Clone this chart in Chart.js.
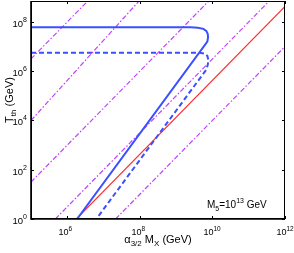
<!DOCTYPE html>
<html>
<head>
<meta charset="utf-8">
<script src="https://cdn.jsdelivr.net/npm/chart.js@4/dist/chart.umd.min.js"></script>
<style>
  html, body { margin: 0; padding: 0; background: #fff; }
  #wrap { width: 294px; height: 253px; }
</style>
</head>
<body>
<div id="wrap"><canvas id="tempChart"></canvas></div>
<script>
// all values are log10 exponents
const solidX = [5, 9.4, 9.6, 9.75, 9.83, 9.87, 9.88, 9.86, 6.27];
const solidY = [7.78, 7.78, 7.76, 7.72, 7.64, 7.52, 7.38, 7.2, 0];
const dashX = [5, 9.65, 9.78, 9.86, 9.89, 9.87, 9.83, 6.8];
const dashY = [6.75, 6.75, 6.72, 6.62, 6.45, 6.25, 6.06, 0];
const redX = [6.25, 12];
const redY = [0, 8.63];
const magStartX = [5, 5, 5, 5.67, 7.33];
const magStartY = [6.5, 4.0, 1.5, 0, 0];
const magEndX = [7.6, 8.9, 10.3, 11.6, 12];
const magEndY = [10.4, 10.35, 9.45, 8.9, 7];
const xTicks = [6, 8, 10, 12];
const yTicks = [0, 2, 4, 6, 8];

const FONT = '"Liberation Sans", Arial, sans-serif';

function pts(xs, ys) {
    return xs.map((e, i) => ({ x: Math.pow(10, e), y: Math.pow(10, ys[i]) }));
}

// draws text pieces in a row, each piece {t, size, dy}
function drawRuns(ctx, runs, x, y, align) {
    let w = 0;
    runs.forEach(r => { ctx.font = r.size + 'px ' + FONT; w += ctx.measureText(r.t).width; });
    let cx = align === 'right' ? x - w : align === 'center' ? x - w / 2 : x;
    runs.forEach(r => {
        ctx.font = r.size + 'px ' + FONT;
        ctx.fillText(r.t, cx, y + (r.dy || 0));
        cx += ctx.measureText(r.t).width;
    });
}

const framePlugin = {
    id: 'frame',
    afterDatasetsDraw(chart) {
        const { ctx, chartArea: a, scales } = chart;
        const sx = scales.x, sy = scales.y;
        ctx.save();
        ctx.setLineDash([]);
        ctx.strokeStyle = '#000';
        ctx.fillStyle = '#000';
        ctx.lineWidth = 1;
        ctx.strokeRect(a.left + 0.5, a.top + 0.5, a.right - a.left - 1, a.bottom - a.top - 1);
        ctx.lineWidth = 1.6;
        ctx.beginPath();
        ctx.moveTo(a.left, a.top); ctx.lineTo(a.left, a.bottom); ctx.lineTo(a.right, a.bottom);
        ctx.stroke();

        ctx.lineWidth = 1;
        ctx.textBaseline = 'alphabetic';
        xTicks.forEach(e => {
            const px = Math.round(sx.getPixelForValue(Math.pow(10, e))) + 0.5;
            ctx.beginPath();
            ctx.moveTo(px, a.bottom); ctx.lineTo(px, a.bottom - 3);
            ctx.moveTo(px, a.top); ctx.lineTo(px, a.top + 3);
            ctx.stroke();
            ctx.font = '9px ' + FONT;
            const bw = ctx.measureText('10').width;
            drawRuns(ctx, [{ t: '10', size: 9 }, { t: String(e), size: 6.5, dy: -4 }], px + 1 - bw, a.bottom + 16, 'left');
        });
        yTicks.forEach(e => {
            const py = Math.round(sy.getPixelForValue(Math.pow(10, e))) + 0.5;
            ctx.beginPath();
            ctx.moveTo(a.left, py); ctx.lineTo(a.left + 3, py);
            ctx.moveTo(a.right, py); ctx.lineTo(a.right - 3, py);
            ctx.stroke();
            drawRuns(ctx, [{ t: '10', size: 9.5 }, { t: String(e), size: 7, dy: -4.5 }], a.left - 4, py + 4, 'right');
        });

        // axis titles
        drawRuns(ctx, [
            { t: 'α', size: 11 }, { t: '3/2', size: 8, dy: 3 },
            { t: ' M', size: 11 }, { t: 'X', size: 8, dy: 3 },
            { t: ' (GeV)', size: 11 }
        ], 158, 243, 'center');

        ctx.save();
        ctx.translate(13, 100);
        ctx.rotate(-Math.PI / 2);
        drawRuns(ctx, [{ t: 'T', size: 11 }, { t: 'th', size: 8, dy: 3 }, { t: ' (GeV)', size: 11 }], 0, 0, 'center');
        ctx.restore();

        drawRuns(ctx, [
            { t: 'M', size: 10 }, { t: '5', size: 7, dy: 3 },
            { t: '=10', size: 10 }, { t: '13', size: 7, dy: -5 },
            { t: ' GeV', size: 10 }
        ], 207, 208, 'left');
        ctx.restore();
    }
};

const datasets = [
    { data: pts(solidX, solidY), borderColor: '#3a50ff', borderWidth: 2 },
    { data: pts(dashX, dashY), borderColor: '#3a50ff', borderWidth: 2, borderDash: [5, 3] },
    { data: pts(redX, redY), borderColor: '#ff2a2a', borderWidth: 1.1 }
];
magStartY.forEach((s, i) => {
    datasets.push({
        data: pts([magStartX[i], magEndX[i]], [s, magEndY[i]]),
        borderColor: '#c040ff', borderWidth: 1.2, borderDash: [5, 2, 1.5, 2]
    });
});
datasets.forEach(d => { d.showLine = true; d.pointRadius = 0; d.fill = false; d.tension = 0; });

new Chart(document.getElementById('tempChart').getContext('2d'), {
    type: 'scatter',
    data: { datasets: datasets },
    options: {
        responsive: true,
        maintainAspectRatio: false,
        animation: false,
        events: [],
        layout: { padding: { left: 0, right: 9, top: 1, bottom: 0 } },
        plugins: { legend: { display: false }, tooltip: { enabled: false } },
        scales: {
            x: {
                type: 'logarithmic', min: 1e5, max: 1e12,
                grid: { display: false }, border: { display: false },
                ticks: { display: false },
                afterFit: s => { s.height = 34; }
            },
            y: {
                type: 'logarithmic', min: 1, max: Math.pow(10, 8.85),
                grid: { display: false }, border: { display: false },
                ticks: { display: false },
                afterFit: s => { s.width = 31; }
            }
        }
    },
    plugins: [framePlugin]
});
</script>
</body>
</html>
